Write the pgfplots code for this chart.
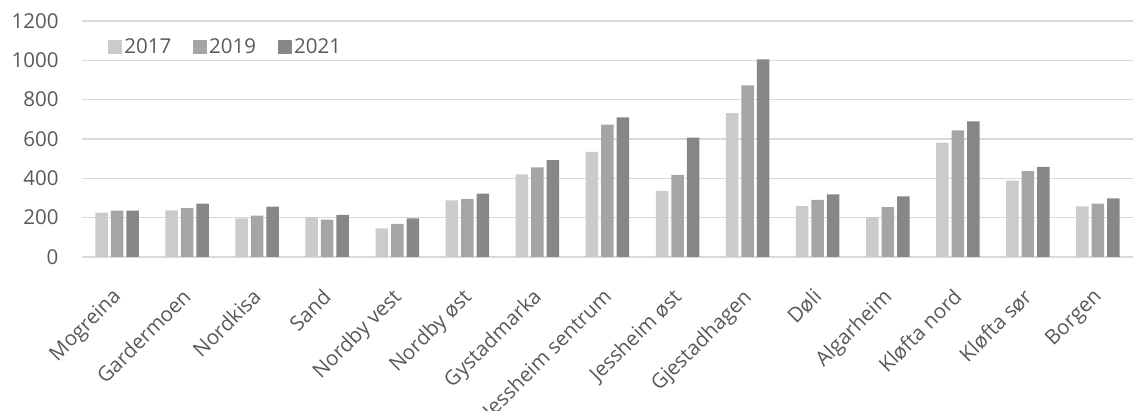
\documentclass[border=0pt]{standalone}
\usepackage{pgfplots}
\pgfplotsset{compat=1.18}
\usepackage{fontspec}
\setmainfont{Open Sans}
\definecolor{cA}{HTML}{CBCBCB}
\definecolor{cB}{HTML}{A5A5A5}
\definecolor{cC}{HTML}{878787}
\definecolor{grd}{HTML}{D9D9D9}
\definecolor{txt}{HTML}{595959}
\begin{document}
\begin{tikzpicture}
\useasboundingbox (0,0) rectangle (1135pt,411pt);
\begin{axis}[
  at={(82pt,154pt)}, anchor=south west,
  scale only axis, width=1051pt, height=236pt,
  xmin=-0.5, xmax=14.5, ymin=0, ymax=1200,
  ytick={0,200,...,1200},
  xtick={0,...,14},
  xticklabels={Mogreina,Gardermoen,Nordkisa,Sand,Nordby vest,Nordby øst,Gystadmarka,Jessheim sentrum,Jessheim øst,Gjestadhagen,Døli,Algarheim,Kløfta nord,Kløfta sør,Borgen},
  font=\fontsize{20.5}{24}\selectfont,
  /pgf/number format/assume math mode=true,
  /pgf/number format/1000 sep={},
  ticklabel style={text=txt},
  yticklabel style={xshift=-20pt},
  xticklabel style={xshift=-6pt, yshift=-30pt, rotate=45, anchor=north east, inner sep=0pt},
  major tick length=0pt,
  axis line style={draw=none},
  ymajorgrids, grid style={draw=grd, line width=1.3pt},
  ybar, bar width=12.5pt,
  legend style={at={(0.022,0.89)}, anchor=west, draw=none, fill=none, text=txt,
    legend columns=3, /tikz/every even column/.append style={column sep=20pt},
    font=\fontsize{20.5}{24}\selectfont},
  legend image code/.code={\fill[#1] (0pt,-7pt) rectangle (14pt,7pt);},
]
\draw[grd, line width=1.3pt] (axis cs:-0.5,0) -- (axis cs:14.5,0);
\addplot[fill=cA, draw=none, bar shift=-15.5pt] coordinates {(0,225) (1,237) (2,197) (3,203) (4,146) (5,288) (6,420) (7,534) (8,336) (9,732) (10,259) (11,203) (12,581) (13,388) (14,258)};
\addplot[fill=cB, draw=none, bar shift=0pt] coordinates {(0,236) (1,249) (2,210) (3,190) (4,168) (5,295) (6,456) (7,673) (8,417) (9,873) (10,290) (11,253) (12,644) (13,437) (14,271)};
\addplot[fill=cC, draw=none, bar shift=15.5pt] coordinates {(0,236) (1,271) (2,256) (3,214) (4,197) (5,322) (6,493) (7,710) (8,607) (9,1005) (10,319) (11,308) (12,690) (13,458) (14,298)};
\legend{2017,2019,2021}
\end{axis}
\end{tikzpicture}
\end{document}
